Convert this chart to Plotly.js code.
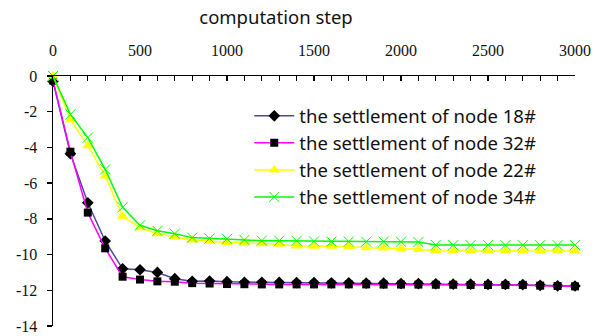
<!DOCTYPE html>
<html>
<head>
<meta charset="utf-8">
<script src="https://cdn.plot.ly/plotly-3.0.1.min.js"></script>
<style>html,body{margin:0;padding:0;background:#fff;}#chart{width:595px;height:336px;}</style>
</head>
<body>
<div id="chart"></div>
<script>
var steps = [0,100,200,300,400,500,600,700,800,900,1000,1100,1200,1300,1400,1500,1600,1700,1800,1900,2000,2100,2200,2300,2400,2500,2600,2700,2800,2900,3000];
var node18 = [-0.3,-4.35,-7.1,-9.24,-10.8,-10.85,-11.0,-11.35,-11.5,-11.48,-11.52,-11.55,-11.55,-11.56,-11.57,-11.57,-11.58,-11.58,-11.6,-11.6,-11.62,-11.63,-11.64,-11.66,-11.66,-11.67,-11.67,-11.68,-11.72,-11.75,-11.76];
var node32 = [-0.25,-4.24,-7.65,-9.65,-11.24,-11.4,-11.5,-11.52,-11.6,-11.62,-11.65,-11.66,-11.67,-11.67,-11.67,-11.67,-11.67,-11.67,-11.67,-11.68,-11.68,-11.68,-11.69,-11.69,-11.7,-11.7,-11.7,-11.7,-11.74,-11.76,-11.78];
var node22 = [0,-2.45,-3.9,-5.6,-7.85,-8.5,-8.83,-9.02,-9.18,-9.26,-9.33,-9.35,-9.4,-9.42,-9.52,-9.53,-9.54,-9.55,-9.62,-9.63,-9.68,-9.7,-9.78,-9.8,-9.8,-9.8,-9.8,-9.8,-9.8,-9.8,-9.8];
var node34 = [0,-2.15,-3.45,-5.23,-7.35,-8.36,-8.67,-8.83,-9.05,-9.1,-9.12,-9.18,-9.22,-9.22,-9.23,-9.26,-9.27,-9.27,-9.28,-9.28,-9.28,-9.3,-9.46,-9.47,-9.47,-9.47,-9.47,-9.47,-9.47,-9.47,-9.47];
var seriesNames = ['the settlement of node 18#','the settlement of node 32#','the settlement of node 22#','the settlement of node 34#'];
var xTickVals = [0,500,1000,1500,2000,2500,3000];
var xTickText = ['0','500','1000','1500','2000','2500','3000'];
var yTickVals = [0,-2,-4,-6,-8,-10,-12,-14];
var yTickText = ['0','-2','-4','-6','-8','-10','-12','-14'];
var xTitle = 'computation step';

var serifFont = 'Liberation Serif';
var sansFont = 'Noto Sans';

var traces = [
  {x: steps, y: node18, name: seriesNames[0], mode: 'lines+markers', cliponaxis: false, legendgroup: 'a',
   line: {color: '#4a4a9c', width: 1.5}, marker: {symbol: 'diamond', size: 9, color: '#000000'}},
  {x: steps, y: node32, name: seriesNames[1], mode: 'lines+markers', cliponaxis: false, legendgroup: 'b',
   line: {color: '#ff00ff', width: 1.5}, marker: {symbol: 'square', size: 8, color: '#000000'}},
  {x: steps, y: node22, name: seriesNames[2], mode: 'lines+markers', cliponaxis: false, legendgroup: 'c',
   line: {color: '#ffff00', width: 1.5}, marker: {symbol: 'triangle-up', size: 10, color: '#ffff00'}},
  {x: steps, y: node34, name: seriesNames[3], mode: 'lines+markers', cliponaxis: false, legendgroup: 'd',
   line: {color: '#00ff00', width: 1.5}, marker: {symbol: 'x-thin-open', size: 10, color: '#00ff00', line: {color: '#00ff00', width: 1}}}
];

var layout = {
  width: 595, height: 336,
  margin: {l: 53, r: 20, t: 76, b: 10},
  paper_bgcolor: '#ffffff', plot_bgcolor: '#ffffff',
  showlegend: true,
  title: {text: xTitle, x: 276/595, xanchor: 'center', xref: 'container', y: 1 - 18/336, yref: 'container', yanchor: 'middle',
          font: {family: sansFont, size: 18.5, color: '#111111'}},
  legend: {x: 0.376, y: 0.915, xanchor: 'left', yanchor: 'top', bgcolor: 'rgba(0,0,0,0)', borderwidth: 0,
           traceorder: 'grouped', tracegroupgap: 0, itemwidth: 40,
           font: {family: sansFont, size: 18.5, color: '#111111'}},
  xaxis: {range: [0, 3000], side: 'top', showline: true, linecolor: '#000', linewidth: 1.5,
          showgrid: false, zeroline: false, ticks: 'inside', ticklen: 5, tickcolor: '#000', tickwidth: 1.5,
          tickmode: 'array', tickvals: xTickVals, ticktext: xTickText, ticklabelstandoff: 12,
          minor: {dtick: 100, ticks: 'inside', ticklen: 5, tickcolor: '#000', tickwidth: 1},
          tickfont: {family: serifFont, size: 16, color: '#111'}},
  yaxis: {range: [-14, 0], showline: true, linecolor: '#000', linewidth: 1.5,
          showgrid: false, zeroline: false, ticks: 'outside', ticklen: 5, tickcolor: '#000', tickwidth: 1.5,
          tickmode: 'array', tickvals: yTickVals, ticktext: yTickText, ticklabelstandoff: 6,
          tickfont: {family: serifFont, size: 16, color: '#111'}}
};

Plotly.newPlot('chart', traces, layout, {displayModeBar: false, staticPlot: true});
</script>
</body>
</html>
